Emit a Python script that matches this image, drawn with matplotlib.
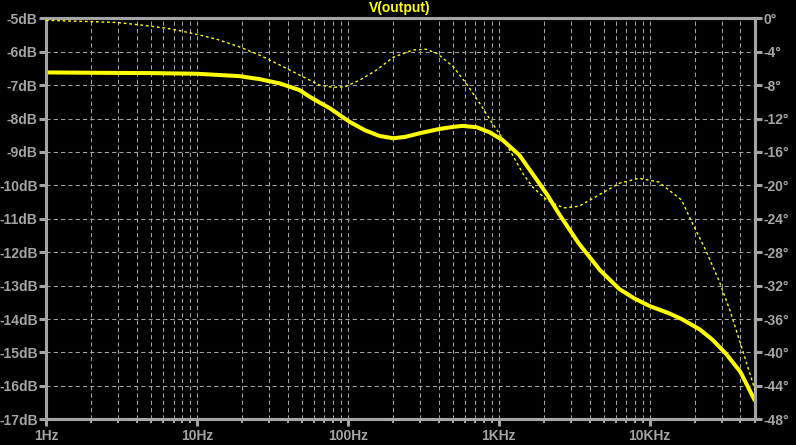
import numpy as np
import matplotlib
matplotlib.use("Agg")
import matplotlib.pyplot as plt
from matplotlib.ticker import LogLocator, FixedLocator, NullFormatter, FuncFormatter

# magnitude trace (left axis, dB)
mag_freq = [1, 2, 5, 10, 19, 26, 35.5, 48, 56, 65, 76, 90, 103, 130, 162, 200, 240,
            300, 407, 500, 575, 715, 870, 1060, 1370, 1730, 2100, 2500, 3400, 4700,
            6300, 7900, 10000, 13500, 16500, 21500, 26000, 32000, 40000, 50000]
mag_db = [-6.62, -6.63, -6.64, -6.66, -6.73, -6.82, -6.95, -7.15, -7.35, -7.52, -7.69,
          -7.92, -8.10, -8.35, -8.52, -8.59, -8.55, -8.44, -8.31, -8.25, -8.22, -8.26,
          -8.41, -8.64, -9.09, -9.74, -10.28, -10.84, -11.74, -12.54, -13.1, -13.38,
          -13.61, -13.83, -14.01, -14.31, -14.61, -15.03, -15.58, -16.45]

# phase trace (right axis, degrees)
ph_freq = [1, 2, 2.95, 4.5, 6.3, 7.7, 10.4, 13.5, 19, 26, 35.5, 48, 65, 80, 96, 120,
           155, 200, 270, 330, 390, 500, 610, 750, 910, 1120, 1450, 1680, 2100, 2700,
           3400, 4670, 6300, 8500, 11500, 16300, 19200, 23500, 29000, 34000, 40000, 50000]
ph_deg = [-0.24, -0.4, -0.5, -0.85, -1.2, -1.48, -2.0, -2.5, -3.4, -4.4, -5.6, -6.8,
          -8.0, -8.26, -8.2, -7.4, -6.2, -4.67, -3.8, -3.7, -4.2, -5.8, -7.8, -10.2,
          -12.6, -15.0, -18.6, -20.2, -21.8, -22.7, -22.5, -21.1, -19.75, -19.15,
          -19.6, -21.75, -24.5, -27.7, -31.5, -34.9, -38.9, -44.5]

db_ticks = list(range(-17, -4))
deg_ticks = list(range(-48, 1, 4))
decades = [1, 10, 100, 1000, 10000]
decade_labels = ["1Hz", "10Hz", "100Hz", "1KHz", "10KHz"]

gray = "#a4a4a4"
yellow = "#ffff00"

plt.rcParams['font.family'] = ['Liberation Sans', 'DejaVu Sans']

fig = plt.figure(figsize=(7.96, 4.45), dpi=100, facecolor="black")
ax = fig.add_axes([0.0578, 0.0578, 0.8907, 0.9011], facecolor="black")
ax2 = ax.twinx()

ax.plot(mag_freq, mag_db, color=yellow, lw=2.9, solid_capstyle="butt", zorder=3)
ax2.plot(ph_freq, ph_deg, color=yellow, lw=1.0, linestyle=(0, (2, 2)), zorder=3)

ax.set_xscale("log")
ax.set_xlim(1, 50000)
ax.set_ylim(-17, -5)
ax2.set_ylim(-48, 0)

ax.xaxis.set_major_locator(FixedLocator(decades))
ax.xaxis.set_major_formatter(FuncFormatter(lambda v, p: decade_labels[decades.index(v)] if v in decades else ""))
ax.xaxis.set_minor_locator(LogLocator(base=10, subs=np.arange(2, 10), numticks=20))
ax.xaxis.set_minor_formatter(NullFormatter())

ax.set_yticks(db_ticks)
ax.set_yticklabels([f"{t}dB" for t in db_ticks])
ax2.set_yticks(deg_ticks)
ax2.set_yticklabels([f"{t}\u00b0" for t in deg_ticks])

for a in (ax, ax2):
    for s in a.spines.values():
        s.set_color(gray)
        s.set_linewidth(2.2)

ax.tick_params(axis="y", which="major", direction="out", length=5, width=2.2,
               color=gray, labelcolor=gray, labelsize=10, pad=1)
ax2.tick_params(axis="y", which="major", direction="out", length=5, width=2.2,
                color=gray, labelcolor=gray, labelsize=10, pad=1)
ax.tick_params(axis="x", which="major", direction="out", length=5, width=2.2,
               color=gray, labelcolor=gray, labelsize=10, pad=2)
ax.tick_params(axis="x", which="minor", direction="out", length=3, width=1.5,
               color=gray)
for lab in ax.get_yticklabels() + ax2.get_yticklabels() + ax.get_xticklabels():
    lab.set_fontweight("bold")

ax.grid(True, which="both", axis="x", color=gray, lw=0.75, linestyle=(0, (4, 3)))
ax.grid(True, which="major", axis="y", color=gray, lw=0.75, linestyle=(0, (4, 3)))
ax.set_axisbelow(True)

fig.text(0.5026, 1 - 8 / 445, "V(output)", color=yellow, fontsize=10,
         fontweight="bold", ha="center", va="center")

fig.savefig("out.png", dpi=100, facecolor="black")
